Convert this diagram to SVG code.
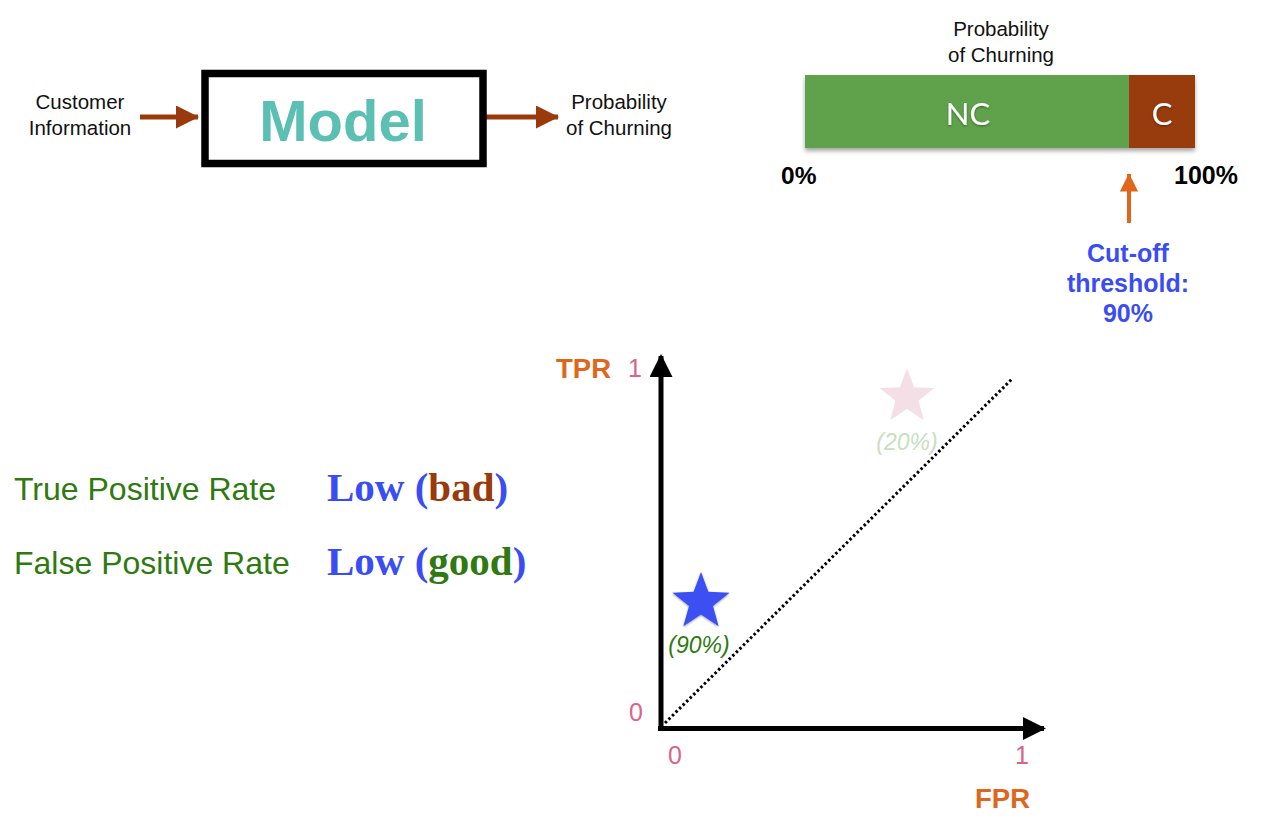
<svg xmlns="http://www.w3.org/2000/svg" xmlns:xlink="http://www.w3.org/1999/xlink" width="1277" height="824" viewBox="0 0 1277 824">
<style>
.sans{font-family:"Liberation Sans",Arial,sans-serif}
.lbl{font-size:20.5px;fill:#111}
.bold{font-weight:bold}
.pink{fill:#d9648a;font-size:25px}
.orange{fill:#e0661c}
.green{fill:#2e7a10}
.blue{fill:#3a4df5}
.brown{fill:#9a3a0c}
.serif{font-family:"Liberation Serif","Times New Roman",serif;font-weight:bold;font-size:41px}
</style>
<defs>
<marker id="ahBrown" markerWidth="4.6" markerHeight="4.6" refX="4.4" refY="2.3" orient="auto" markerUnits="strokeWidth"><path d="M0,0 L4.6,2.3 L0,4.6 Z" fill="#9a3a0c"/></marker>
<marker id="ahOrange" markerWidth="4.6" markerHeight="4.6" refX="4.4" refY="2.3" orient="auto" markerUnits="strokeWidth"><path d="M0,0 L4.6,2.3 L0,4.6 Z" fill="#e0661c"/></marker>
<marker id="ahBlack" markerWidth="4.6" markerHeight="4.6" refX="4.2" refY="2.3" orient="auto" markerUnits="strokeWidth"><path d="M0,0 L4.6,2.3 L0,4.6 Z" fill="#000"/></marker>
<path id="star" d="M0,-30 L7.41,-10.19 L28.53,-9.27 L11.98,3.89 L17.63,24.27 L0,12.6 L-17.63,24.27 L-11.98,3.89 L-28.53,-9.27 L-7.41,-10.19 Z"/>
<filter id="shadow" x="-10%" y="-20%" width="120%" height="150%"><feDropShadow dx="0" dy="3" stdDeviation="2" flood-color="#000" flood-opacity="0.35"/></filter>
<filter id="tshadow"><feDropShadow dx="0" dy="1" stdDeviation="0.8" flood-color="#000" flood-opacity="0.4"/></filter>
</defs>
<rect width="1277" height="824" fill="#fff"/>

<g id="connectors">
<line x1="140" y1="117" x2="198" y2="117" stroke="#9a3a0c" stroke-width="5" marker-end="url(#ahBrown)"/>
<line x1="486" y1="117" x2="558" y2="117" stroke="#9a3a0c" stroke-width="5" marker-end="url(#ahBrown)"/>
<line x1="1129" y1="223" x2="1129" y2="174" stroke="#e0661c" stroke-width="4" marker-end="url(#ahOrange)"/>
</g>

<g id="customer-info">
<text class="sans lbl" x="80" y="109" text-anchor="middle">Customer</text>
<text class="sans lbl" x="80" y="135" text-anchor="middle">Information</text>
</g>

<g id="model">
<rect x="205" y="73.5" width="278" height="90" fill="#fff" stroke="#000" stroke-width="7.5"/>
<text class="sans bold" x="343" y="141" text-anchor="middle" font-size="58" fill="#5bbfb4">Model</text>
</g>

<g id="prob-output">
<text class="sans lbl" x="619" y="109" text-anchor="middle">Probability</text>
<text class="sans lbl" x="619" y="135" text-anchor="middle">of Churning</text>
</g>

<g id="prob-bar">
<text class="sans lbl" x="1001" y="36" text-anchor="middle">Probability</text>
<text class="sans lbl" x="1001" y="62" text-anchor="middle">of Churning</text>
<g filter="url(#shadow)">
<rect x="805" y="75" width="324" height="73" fill="#5fa24b"/>
<rect x="1129" y="75" width="66" height="73" fill="#983a0b"/>
</g>
<text x="968" y="125" text-anchor="middle" font-family="Lato,'Open Sans',sans-serif" font-size="31" fill="#fff" filter="url(#tshadow)">NC</text>
<text x="1162" y="125" text-anchor="middle" font-family="Lato,'Open Sans',sans-serif" font-size="31" fill="#fff" filter="url(#tshadow)">C</text>
<text class="sans bold" x="781" y="184" font-size="24.5" fill="#000">0%</text>
<text class="sans bold" x="1174" y="184" font-size="25" fill="#000">100%</text>
</g>

<g id="cutoff">
<text class="sans bold blue" x="1128" y="262" text-anchor="middle" font-size="25">Cut-off</text>
<text class="sans bold blue" x="1128" y="292" text-anchor="middle" font-size="25">threshold:</text>
<text class="sans bold blue" x="1128" y="322" text-anchor="middle" font-size="25">90%</text>
</g>

<g id="rates">
<text class="sans green" x="14" y="500" font-size="32">True Positive Rate</text>
<text class="sans green" x="14" y="574" font-size="32">False Positive Rate</text>
<text class="serif blue" x="327" y="501">Low (<tspan class="brown">bad</tspan>)</text>
<text class="serif blue" x="327" y="575">Low (<tspan class="green">good</tspan>)</text>
</g>

<g id="roc-chart">
<line x1="661" y1="731" x2="661" y2="356" stroke="#000" stroke-width="5" marker-end="url(#ahBlack)"/>
<line x1="658" y1="728.5" x2="1044" y2="728.5" stroke="#000" stroke-width="5" marker-end="url(#ahBlack)"/>
<line x1="665" y1="723" x2="1013" y2="378" stroke="#000" stroke-width="3" stroke-dasharray="2.5 2.5"/>
<text class="sans bold orange" x="556" y="378" font-size="27.5">TPR</text>
<text class="sans bold orange" x="975" y="808" font-size="27.5">FPR</text>
<text class="sans pink" x="628" y="377">1</text>
<text class="sans pink" x="629" y="721">0</text>
<text class="sans pink" x="668" y="764">0</text>
<text class="sans pink" x="1015" y="764">1</text>
</g>

<g id="star-90">
<use href="#star" xlink:href="#star" transform="translate(701,602)" fill="#3b4ff2" filter="url(#tshadow)"/>
<text class="sans green" x="699" y="653" text-anchor="middle" font-size="23" font-style="italic">(90%)</text>
</g>

<g id="star-20">
<use href="#star" xlink:href="#star" transform="translate(907,397) scale(0.96)" fill="#f5dfe6"/>
<text class="sans" x="907" y="450" text-anchor="middle" font-size="23" font-style="italic" fill="#c6e0c0">(20%)</text>
</g>
</svg>
